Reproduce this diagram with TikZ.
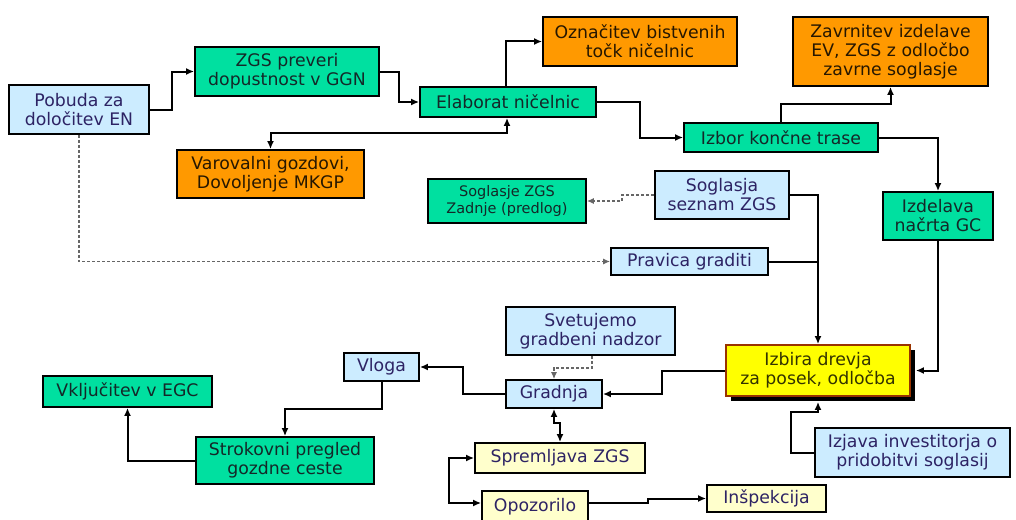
\documentclass[tikz,border=0pt]{standalone}
\usepackage{fontspec}
\setmainfont{DejaVu Sans}
\usetikzlibrary{arrows.meta,shadows,calc}
\definecolor{cgreen}{RGB}{0,224,160}
\definecolor{corange}{RGB}{255,153,0}
\definecolor{cblue}{RGB}{204,236,255}
\definecolor{cyellow}{RGB}{255,255,0}
\definecolor{clyellow}{RGB}{255,255,204}
\definecolor{cbrown}{RGB}{153,51,0}
\definecolor{ctxtblue}{RGB}{45,35,100}
\definecolor{ctxtdark}{RGB}{20,40,40}
\begin{document}
\begin{tikzpicture}[x=1pt,y=-1pt,
  box/.style={rectangle,draw=black,line width=1.8pt,inner sep=0pt,align=center,
    font=\fontsize{17.3}{19}\selectfont},
  gbox/.style={box,fill=cgreen,text=ctxtdark},
  obox/.style={box,fill=corange,text=black!85!corange},
  bbox/.style={box,fill=cblue,text=ctxtblue},
  lybox/.style={box,fill=clyellow,text=ctxtblue},
  ybox/.style={box,fill=cyellow,draw=cbrown,text=black!80!cyellow,
    drop shadow={shadow xshift=5pt,shadow yshift=-5pt,fill=black,opacity=1}},
  arr/.style={line width=2pt,-{Latex[length=8pt,width=7pt]}},
  biarr/.style={line width=2pt,{Latex[length=8pt,width=7pt]}-{Latex[length=8pt,width=7pt]}},
  darr/.style={line width=1.2pt,draw=black!60,dash pattern=on 3pt off 2pt,
    -{Latex[length=7pt,width=6pt]}},
  plain/.style={line width=2pt}]
\useasboundingbox (0,0) rectangle (1016,519);
% nodes
\node[bbox,minimum width=140pt,minimum height=49pt] (pobuda) at (79,109.5) {Pobuda za\\določitev EN};
\node[gbox,minimum width=184pt,minimum height=49pt] (zgs) at (287,71.5) {ZGS preveri\\dopustnost v GGN};
\node[gbox,minimum width=176pt,minimum height=30pt] (elab) at (508,102) {Elaborat ničelnic};
\node[obox,minimum width=194pt,minimum height=49pt] (oznac) at (640,41.5) {Označitev bistvenih\\točk ničelnic};
\node[obox,minimum width=195pt,minimum height=69pt] (zavr) at (890.5,51.5) {Zavrnitev izdelave\\EV, ZGS z odločbo\\zavrne soglasje};
\node[gbox,minimum width=194pt,minimum height=29pt] (izbor) at (781,137.5) {Izbor končne trase};
\node[obox,minimum width=187pt,minimum height=48pt] (varov) at (270.5,174) {Varovalni gozdovi,\\Dovoljenje MKGP};
\node[gbox,minimum width=158pt,minimum height=44pt,font=\fontsize{14.5}{17}\selectfont] (soglzgs) at (507,201) {Soglasje ZGS\\Zadnje (predlog)};
\node[bbox,minimum width=134pt,minimum height=48pt] (soglasja) at (722,195) {Soglasja\\seznam ZGS};
\node[gbox,minimum width=110pt,minimum height=48pt] (izdel) at (938,216) {Izdelava\\načrta GC};
\node[bbox,minimum width=157pt,minimum height=27pt] (pravica) at (689.5,261.5) {Pravica graditi};
\node[bbox,minimum width=169pt,minimum height=48pt] (svet) at (590.5,331) {Svetujemo\\gradbeni nadzor};
\node[bbox,minimum width=96pt,minimum height=28pt] (gradnja) at (554,394) {Gradnja};
\node[ybox,minimum width=184pt,minimum height=51pt] (izbira) at (818,370.5) {Izbira drevja\\za posek, odločba};
\node[bbox,minimum width=195pt,minimum height=49pt] (izjava) at (912.5,452.5) {Izjava investitorja o\\pridobitvi soglasij};
\node[lybox,minimum width=119pt,minimum height=27pt] (insp) at (766.5,498.5) {Inšpekcija};
\node[lybox,minimum width=170pt,minimum height=30pt] (sprem) at (560,458) {Spremljava ZGS};
\node[lybox,minimum width=106pt,minimum height=32pt] (opoz) at (535,507) {Opozorilo};
\node[bbox,minimum width=75pt,minimum height=28pt] (vloga) at (381.5,367) {Vloga};
\node[gbox,minimum width=169pt,minimum height=31pt] (vklj) at (127.5,391.5) {Vključitev v EGC};
\node[gbox,minimum width=178pt,minimum height=47pt] (strok) at (285,460.5) {Strokovni pregled\\gozdne ceste};
% helper coordinates
\coordinate (c1) at (507,133);
\coordinate (c2) at (640,0);
\coordinate (c3) at (781,104);
\coordinate (c4) at (622,0);
\coordinate (c5) at (791,412);
\coordinate (c6) at (592,368);
\coordinate (c7) at (662,0);
\coordinate (c8) at (463,0);
\coordinate (c9) at (0,409);
\coordinate (c10) at (449,0);
\coordinate (c11) at (648,0);
\coordinate (c12) at (172,0);
\coordinate (c13) at (399,0);
\coordinate (c14) at (506,0);
\coordinate (c15) at (0,503);
% connectors
\draw[arr] (pobuda.east) -- (pobuda.east -| c12) |- (zgs.west);
\draw[arr] (zgs.east) -- (zgs.east -| c13) |- (elab.west);
\draw[arr] (elab.north -| c14) |- (oznac.west);
\draw[biarr] (varov.north) |- (c1) -- (c1 |- elab.south);
\draw[arr] (elab.east) -- (elab.east -| c2) |- (izbor.west);
\draw[arr] (c3 |- izbor.north) -- (c3) -| (zavr.south);
\draw[arr] (izbor.east) -| (izdel.north);
\draw[darr] (soglasja.west) -- (soglasja.west -| c4) |- (soglzgs.east);
\draw[arr] (soglasja.east) -| (izbira.north);
\draw[plain] (pravica.east) -- (pravica.east -| izbira.north);
\draw[arr] (izdel.south) |- ($(izbira.east)+(5,0)$);
\draw[arr] (izjava.west) -| (c5) -| ($(izbira.south)+(0,5)$);
\draw[darr] (pobuda.south) |- (pravica.west);
\draw[darr] (c6 |- svet.south) -- (c6) -| (gradnja.north);
\draw[arr] (izbira.west) -- (izbira.west -| c7) |- (gradnja.east);
\draw[arr] (gradnja.west) -- (gradnja.west -| c8) |- (vloga.east);
\draw[arr] (vloga.south) -- (vloga.south |- c9) -| (strok.north);
\draw[arr] (strok.west) -| (vklj.south);
\draw[biarr] (gradnja.south) -- ++(0,14) -| (sprem.north);
\draw[biarr] (sprem.west) -- (sprem.west -| c10) |- (opoz.west |- c15);
\draw[arr] (opoz.east |- c15) -- (c15 -| c11) |- (insp.west);
\end{tikzpicture}
\end{document}
